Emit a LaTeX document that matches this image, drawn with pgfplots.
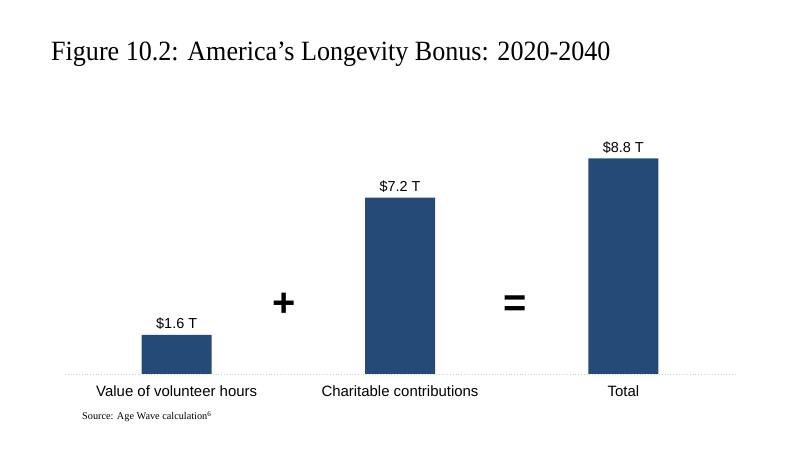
\documentclass[border=0pt]{standalone}
\usepackage{pgfplots}
\pgfplotsset{compat=1.18}
\usepackage{fontspec}
\setmainfont{Liberation Serif}
\setsansfont{Liberation Sans}
\definecolor{barblue}{HTML}{264A78}
\definecolor{basegray}{HTML}{D0D0D0}
\begin{document}
\begin{tikzpicture}[x=1bp,y=1bp]
\useasboundingbox (0,0) rectangle (800,450);
% title
\node[anchor=base west,inner sep=0] at (51,389) {\fontsize{28}{32}\selectfont\scalebox{0.935}[1]{Figure 10.2: America’s Longevity Bonus: 2020-2040}};
\begin{axis}[
    at={(65bp,76bp)}, anchor=south west,
    width=670bp, height=245bp, scale only axis,
    xmin=-0.5, xmax=2.5, ymin=0, ymax=10,
    axis y line=none,
    axis x line*=bottom,
    x axis line style={draw=basegray, dotted, thick, -},
    xtick={0,1,2},
    xticklabels={Value of volunteer hours, Charitable contributions, Total},
    xtick style={draw=none},
    xticklabel style={font=\sffamily\fontsize{15}{18}\selectfont, yshift=-4bp},
    ybar, bar width=70bp,
    nodes near coords,
    point meta=explicit symbolic,
    nodes near coords style={font=\sffamily\fontsize{14.5}{16}\selectfont, black, anchor=south, yshift=1.5bp},
    clip=false,
]
\addplot[fill=barblue, draw=none] coordinates {
    (0,1.6) [\$1.6 T]
    (1,7.2) [\$7.2 T]
    (2,8.8) [\$8.8 T]
};
\end{axis}
% operators between the bars
\node[font=\sffamily\bfseries\fontsize{40}{44}\selectfont] at (284,145) {+};
\node[font=\sffamily\bfseries\fontsize{40}{44}\selectfont] at (515,144) {=};
% source
\node[anchor=base west,inner sep=0] at (82,30) {\fontsize{10.3}{12}\selectfont Source: Age Wave calculation\textsuperscript{6}};
\end{tikzpicture}
\end{document}
